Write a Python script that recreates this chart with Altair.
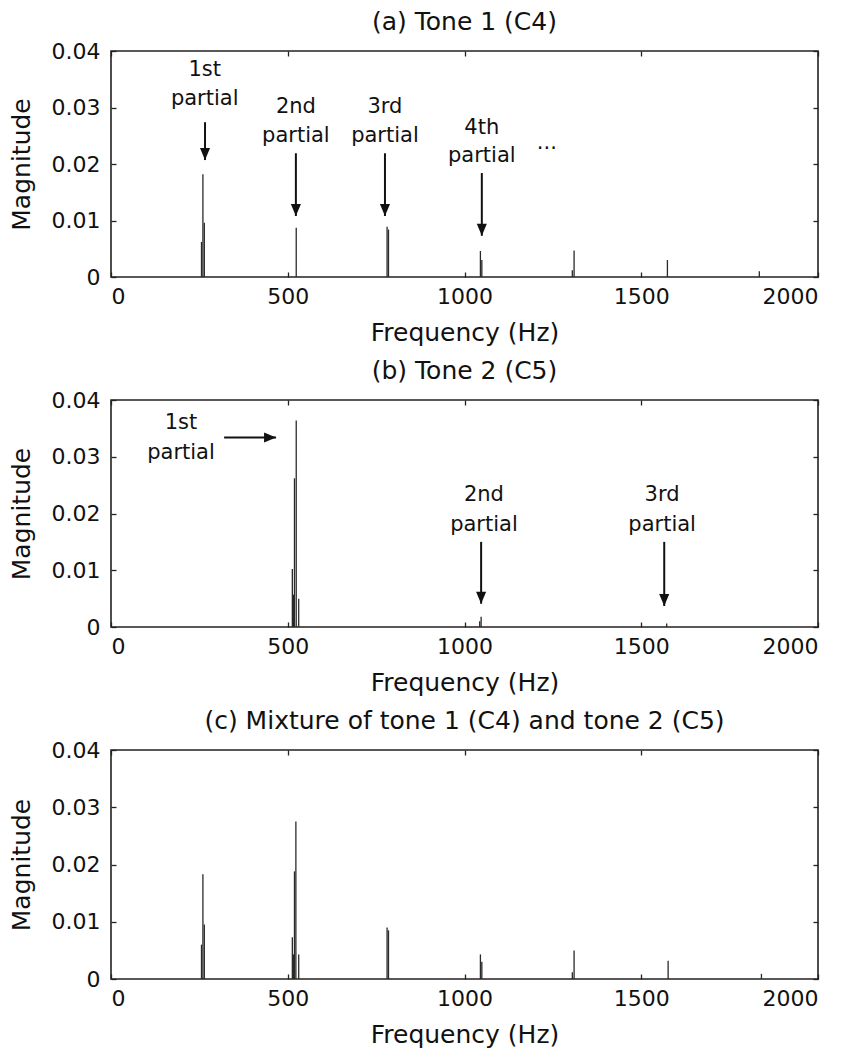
import altair as alt
import pandas as pd

FONT = "DejaVu Sans"
INK = "#111111"

x_ticks = [0, 500, 1000, 1500, 2000]
y_ticks = [0, 0.01, 0.02, 0.03, 0.04]

# ---- Panel (a): Tone 1 (C4) ----
a_title = "(a) Tone 1 (C4)"
a_freq = [256, 260, 264, 524, 781, 785, 1045, 1049, 1305, 1310, 1574, 1834]
a_mag = [0.0062, 0.0182, 0.0096, 0.0087, 0.0089, 0.0084, 0.0046, 0.0030, 0.0012, 0.0047, 0.0030, 0.0010]
a_text = ["1st", "partial", "2nd", "partial", "3rd", "partial", "4th", "partial", "..."]
a_text_x = [265, 265, 523, 523, 775, 775, 1049, 1049, 1233]
a_text_y = [0.0366, 0.0315, 0.0301, 0.0249, 0.0301, 0.0249, 0.0264, 0.0214, 0.0237]
a_arrow_x0 = [266, 523, 775, 1049]
a_arrow_x1 = [266, 523, 775, 1049]
a_arrow_y0 = [0.0274, 0.0219, 0.0219, 0.0184]
a_arrow_y1 = [0.0207, 0.0108, 0.0108, 0.0073]
a_arrow_dir = ["down", "down", "down", "down"]

# ---- Panel (b): Tone 2 (C5) ----
b_title = "(b) Tone 2 (C5)"
b_freq = [513, 516, 519, 524, 531, 1043, 1047, 1572]
b_mag = [0.0102, 0.0057, 0.0262, 0.0364, 0.0050, 0.0010, 0.0018, 0.0006]
b_text = ["1st", "partial", "2nd", "partial", "3rd", "partial"]
b_text_x = [198, 198, 1055, 1055, 1559, 1559]
b_text_y = [0.0359, 0.0306, 0.0233, 0.0180, 0.0233, 0.0180]
b_arrow_x0 = [320, 1047, 1565]
b_arrow_x1 = [467, 1047, 1565]
b_arrow_y0 = [0.0334, 0.0150, 0.0150]
b_arrow_y1 = [0.0334, 0.0041, 0.0037]
b_arrow_dir = ["right", "down", "down"]

# ---- Panel (c): Mixture ----
c_title = "(c) Mixture of tone 1 (C4) and tone 2 (C5)"
c_freq = [256, 260, 264, 513, 516, 519, 523, 531, 781, 785, 1045, 1049, 1305, 1310, 1576, 1840]
c_mag = [0.0060, 0.0183, 0.0095, 0.0073, 0.0043, 0.0188, 0.0275, 0.0043, 0.0090, 0.0085,
         0.0043, 0.0030, 0.0012, 0.0050, 0.0032, 0.0009]

HEADS = {"down": "M-0.42,-1L0.42,-1L0,0Z", "right": "M-1,-0.42L-1,0.42L0,0Z"}

xs = alt.Scale(domain=[0, 2000], nice=False, zero=False)
ys = alt.Scale(domain=[0, 0.04], nice=False)

ylab = "datum.value == 0 ? '0' : format(datum.value, '.2f')"


def panel(title, height, freq, mag, text=None, tx=None, ty=None,
          ax0=None, ax1=None, ay0=None, ay1=None, adir=None):
    spec = pd.DataFrame({"freq": freq, "mag": mag})
    bottom = alt.Axis(orient="bottom", values=x_ticks, format="d", offset=-5, domain=False,
                      tickSize=5, labelPadding=9, title="Frequency (Hz)", titlePadding=13)
    left = alt.Axis(orient="left", values=y_ticks, labelExpr=ylab, offset=-5, domain=False,
                    tickSize=5, labelPadding=11, title="Magnitude", titlePadding=17)
    lines = alt.Chart(spec).mark_rule(color="#2a2a2a", strokeWidth=1.3).encode(
        x=alt.X("freq:Q", scale=xs, axis=bottom),
        y=alt.Y("mag:Q", scale=ys, axis=left),
        y2=alt.datum(0),
    )
    frame_axes = alt.Chart(spec).mark_rule(opacity=0).encode(
        x=alt.X("freq:Q", scale=xs, axis=alt.Axis(orient="top", values=x_ticks, labels=False,
                                                  title=None, offset=-5, domain=False, tickSize=5)),
        y=alt.Y("mag:Q", scale=ys, axis=alt.Axis(orient="right", values=y_ticks, labels=False,
                                                 title=None, offset=-5, domain=False, tickSize=5)),
    )
    layers = [lines, frame_axes]
    if text is not None:
        tdf = pd.DataFrame({"x": tx, "y": ty, "t": text})
        layers.append(
            alt.Chart(tdf).mark_text(font=FONT, fontSize=21, color=INK, baseline="middle", align="center").encode(
                x=alt.X("x:Q", scale=xs, axis=None),
                y=alt.Y("y:Q", scale=ys, axis=None),
                text="t:N",
            )
        )
        adf = pd.DataFrame({"x0": ax0, "x1": ax1, "y0": ay0, "y1": ay1,
                            "shape": [HEADS[d] for d in adir]})
        layers.append(
            alt.Chart(adf).mark_rule(color=INK, strokeWidth=2).encode(
                x=alt.X("x0:Q", scale=xs, axis=None),
                x2="x1:Q",
                y=alt.Y("y0:Q", scale=ys, axis=None),
                y2="y1:Q",
            )
        )
        layers.append(
            alt.Chart(adf).mark_point(filled=True, color=INK, opacity=1, size=576).encode(
                x=alt.X("x1:Q", scale=xs, axis=None),
                y=alt.Y("y1:Q", scale=ys, axis=None),
                shape=alt.Shape("shape:N", scale=None),
            )
        )
    return alt.layer(*layers).resolve_axis(x="independent", y="independent").properties(
        width=707, height=height,
        title=alt.TitleParams(text=title, anchor="middle", fontSize=25, font=FONT,
                              fontWeight="normal", color=INK, offset=5),
    )


pa = panel(a_title, 226, a_freq, a_mag, a_text, a_text_x, a_text_y,
           a_arrow_x0, a_arrow_x1, a_arrow_y0, a_arrow_y1, a_arrow_dir)
pb = panel(b_title, 227, b_freq, b_mag, b_text, b_text_x, b_text_y,
           b_arrow_x0, b_arrow_x1, b_arrow_y0, b_arrow_y1, b_arrow_dir)
pc = panel(c_title, 229, c_freq, c_mag)

chart = alt.vconcat(pa, pb, pc, spacing=12).properties(
    padding={"left": 8, "top": 9, "right": 5, "bottom": 5},
    background="white",
).configure_view(
    stroke="#222222", strokeWidth=1.6
).configure_axis(
    labelFont=FONT, labelFontSize=22, labelColor=INK,
    titleFont=FONT, titleFontSize=25, titleFontWeight="normal", titleColor=INK,
    tickColor="#222222", tickWidth=1.3, grid=False,
)

chart.save("out.html", embed_options={"renderer": "svg", "actions": False})
